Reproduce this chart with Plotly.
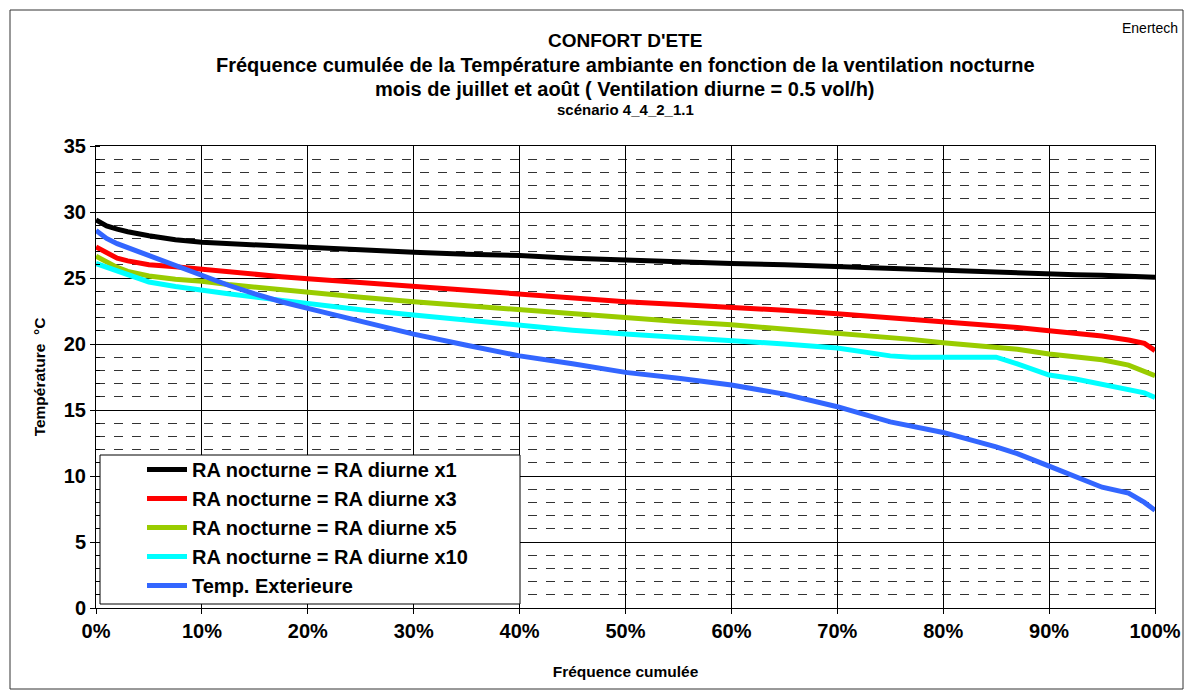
import plotly.graph_objects as go

# cumulative frequency (%)
freq = [0, 1, 2, 3, 5, 7.5, 10, 12.5, 15, 17.5, 20, 25, 30, 35, 40, 45, 50, 55, 60, 65,
        70, 75, 77, 80, 85, 87, 90, 92.5, 95, 97.5, 99, 100]

ra_x1 = [29.4, 28.95, 28.7, 28.5, 28.2, 27.9, 27.7, 27.6, 27.5, 27.4, 27.3, 27.1, 26.95, 26.8,
         26.7, 26.5, 26.35, 26.2, 26.1, 26.0, 25.85, 25.75, 25.7, 25.6, 25.45, 25.4, 25.3,
         25.25, 25.2, 25.1, 25.1, 25.05]
ra_x3 = [27.35, 26.9, 26.5, 26.3, 26.0, 25.85, 25.65, 25.45, 25.3, 25.1, 24.95, 24.65, 24.35,
         24.05, 23.8, 23.5, 23.2, 23.0, 22.8, 22.55, 22.3, 22.0, 21.9, 21.7, 21.4, 21.25, 21.0,
         20.8, 20.6, 20.3, 20.05, 19.5]
ra_x5 = [26.65, 26.2, 25.8, 25.5, 25.15, 24.9, 24.75, 24.5, 24.3, 24.1, 23.95, 23.55, 23.2,
         22.9, 22.6, 22.3, 21.95, 21.7, 21.45, 21.15, 20.8, 20.5, 20.35, 20.1, 19.7, 19.6,
         19.25, 19.05, 18.8, 18.4, 17.95, 17.6]
ra_x10 = [26.1, 25.8, 25.5, 25.2, 24.7, 24.35, 24.05, 23.8, 23.55, 23.3, 23.05, 22.6, 22.2,
          21.8, 21.45, 21.05, 20.75, 20.5, 20.3, 20.0, 19.7, 19.1, 19.0, 19.0, 19.0, 18.5,
          17.65, 17.35, 16.95, 16.6, 16.3, 15.95]
t_ext = [28.6, 28.0, 27.6, 27.3, 26.7, 25.9, 25.2, 24.45, 23.8, 23.2, 22.7, 21.7, 20.75, 19.9,
         19.1, 18.5, 17.85, 17.4, 16.9, 16.2, 15.25, 14.1, 13.8, 13.3, 12.2, 11.7, 10.75, 9.95,
         9.15, 8.7, 8.0, 7.4]

series_names = ["RA nocturne = RA diurne x1", "RA nocturne = RA diurne x3",
                "RA nocturne = RA diurne x5", "RA nocturne = RA diurne x10",
                "Temp. Exterieure"]
series_vals = [ra_x1, ra_x3, ra_x5, ra_x10, t_ext]
colors = ["#000000", "#FF0000", "#99CC00", "#00FFFF", "#3366FF"]

xticks = [0, 10, 20, 30, 40, 50, 60, 70, 80, 90, 100]
yticks = [0, 5, 10, 15, 20, 25, 30, 35]

FONT = "Liberation Sans, Arial, sans-serif"

fig = go.Figure()
xs = [f / 100 for f in freq]
for i, (name, vals, col) in enumerate(zip(series_names, series_vals, colors)):
    fig.add_trace(go.Scatter(x=xs, y=vals, mode="lines", name=name,
                             legendgroup=f"g{i}",
                             line=dict(color=col, width=5), showlegend=True))

# page has an 8px body margin: work in page pixels, convert to figure pixels
OFF = 8
W, H = 1193 - 2 * OFF, 698 - 2 * OFF
L, R, T, B = 96 - OFF, 1155 - OFF, 146 - OFF, 608 - OFF
pw, ph = R - L, B - T

def px(xp):
    return (xp - OFF - L) / pw

def py(yp):
    return (B - (yp - OFF)) / ph

# outer chart border
fig.add_shape(type="rect", xref="paper", yref="paper",
              x0=px(10), x1=px(1183), y0=py(689), y1=py(10),
              line=dict(color="#333333", width=1), layer="below")
# legend frame
fig.add_shape(type="rect", xref="paper", yref="paper",
              x0=px(100), x1=px(520), y0=py(604), y1=py(455),
              line=dict(color="#000000", width=1), fillcolor="white", layer="above")

fig.update_layout(
    width=W, height=H,
    margin=dict(l=L, r=W - R, t=T, b=H - B, pad=0),
    paper_bgcolor="white", plot_bgcolor="white",
    font=dict(family=FONT, color="black"),
    showlegend=True,
    legend=dict(x=px(142), y=py(450), xanchor="left", yanchor="top",
                bgcolor="rgba(0,0,0,0)", borderwidth=0,
                font=dict(family=FONT, size=20, color="black", weight="bold"),
                tracegroupgap=2.5, itemwidth=40, traceorder="normal"),
    xaxis=dict(range=[0, 1], tickvals=[v / 100 for v in xticks],
               ticktext=[f"{v}%" for v in xticks], automargin=False,
               showgrid=True, gridcolor="#000000", gridwidth=1,
               showline=True, linecolor="#000000", linewidth=1, mirror=True,
               ticks="outside", ticklen=5, tickcolor="#000000",
               tickfont=dict(family=FONT, size=20, weight="bold"),
               zeroline=False,
               title=dict(text="Fréquence cumulée", standoff=25,
                          font=dict(family=FONT, size=15.5, weight="bold"))),
    yaxis=dict(range=[0, 35], tickvals=yticks, automargin=False,
               showgrid=True, gridcolor="#000000", gridwidth=1,
               showline=True, linecolor="#000000", linewidth=1, mirror=True,
               ticks="outside", ticklen=5, tickcolor="#000000",
               tickfont=dict(family=FONT, size=20, weight="bold"),
               zeroline=False,
               minor=dict(dtick=1, showgrid=True, gridcolor="#333333",
                          griddash="dash", gridwidth=1,
                          ticks="inside", ticklen=4, tickcolor="#000000"),
               title=dict(text="Température  °C", standoff=14,
                          font=dict(family=FONT, size=15.5, weight="bold"))),
)

title_lines = [
    ("CONFORT D'ETE", 19, 40),
    ("Fréquence cumulée de la Température ambiante en fonction de la ventilation nocturne", 20, 65),
    ("mois de juillet et août ( Ventilation diurne = 0.5 vol/h)", 20, 89),
    ("scénario 4_4_2_1.1", 15, 110),
]
for txt, sz, yc in title_lines:
    fig.add_annotation(text=f"<b>{txt}</b>", xref="paper", yref="paper",
                       x=px(625), y=py(yc), xanchor="center", yanchor="middle",
                       showarrow=False, font=dict(family=FONT, size=sz, color="black"))

fig.add_annotation(text="Enertech", xref="paper", yref="paper",
                   x=px(1180), y=py(28), xanchor="right", yanchor="middle",
                   showarrow=False, font=dict(family=FONT, size=14, color="black"))

fig.write_html("out.html")
